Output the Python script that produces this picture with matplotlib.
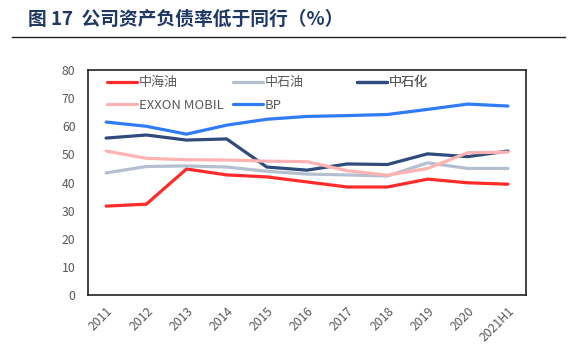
import matplotlib
matplotlib.use('Agg')
import matplotlib.pyplot as plt
from matplotlib.lines import Line2D

plt.rcParams['font.family'] = ['Noto Sans CJK SC', 'DejaVu Sans']

# --- datos ---
anios = ['2011', '2012', '2013', '2014', '2015', '2016', '2017', '2018', '2019', '2020', '2021H1']
zhonghaiyou = [31.6, 32.3, 44.8, 42.7, 42.0, 40.2, 38.4, 38.4, 41.2, 39.9, 39.4]
zhongshiyou = [43.4, 45.7, 45.9, 45.5, 44.0, 43.0, 42.7, 42.3, 47.0, 45.0, 45.0]
zhongshihua = [55.8, 56.9, 55.1, 55.5, 45.5, 44.4, 46.6, 46.4, 50.2, 49.2, 51.2]
exxon       = [51.2, 48.6, 48.1, 48.0, 47.6, 47.4, 44.2, 42.6, 45.0, 50.6, 50.8]
bp          = [61.5, 60.0, 57.2, 60.4, 62.5, 63.5, 63.8, 64.2, 66.0, 67.9, 67.2]

series = [
    ('中海油', zhonghaiyou, '#ff2b2b'),
    ('中石油', zhongshiyou, '#b4bfcf'),
    ('中石化', zhongshihua, '#2f4b7c'),
    ('EXXON MOBIL', exxon, '#ffb2b2'),
    ('BP', bp, '#2f7cf6'),
]

GRIS = '#595959'

fig = plt.figure(figsize=(5.84, 3.52), dpi=100)
ax = fig.add_axes([0.1507, 0.162, 0.75, 0.639])

x = list(range(len(anios)))
lineas = {}
for nombre, vals, color in series:
    l, = ax.plot(x, vals, color=color, linewidth=2.3, solid_capstyle='round',
                 solid_joinstyle='miter', label=nombre)
    lineas[nombre] = l

ax.set_xlim(-0.45, len(anios) - 0.55)
ax.set_ylim(0, 80)
ax.set_yticks(range(0, 81, 10))
ax.set_xticks(x)
ax.set_xticklabels(anios, rotation=45, ha='right', rotation_mode='anchor')
ax.tick_params(axis='both', length=0, labelcolor=GRIS, labelsize=8.8)
ax.tick_params(axis='y', pad=9)
ax.tick_params(axis='x', pad=7)
for s in ax.spines.values():
    s.set_color('#222222')
    s.set_linewidth(1.2)

# --- leyenda en tres columnas ---
columnas = [['中海油', 'EXXON MOBIL'], ['中石油', 'BP'], ['中石化']]
pos_x = [0.043, 0.331, 0.614]
for cols, px in zip(columnas, pos_x):
    hs = [lineas[n] for n in cols]
    leg = ax.legend(hs, cols, loc='upper left', bbox_to_anchor=(px, 0.972),
                    frameon=False, fontsize=9.4, handlelength=2.3, handletextpad=0.15,
                    labelspacing=0.72, borderpad=0, borderaxespad=0, labelcolor=GRIS)
    ax.add_artist(leg)

# --- titulo ---
fig.text(28 / 584, 1 - 19 / 352, '图 17  公司资产负债率低于同行（%）', fontsize=13.5,
         fontweight='bold', color='#1f3864', ha='left', va='center')
fig.add_artist(Line2D([12 / 584, 565 / 584], [1 - 37 / 352, 1 - 37 / 352],
                      color='#222222', linewidth=1.0))

plt.savefig('out.png', dpi=100)
